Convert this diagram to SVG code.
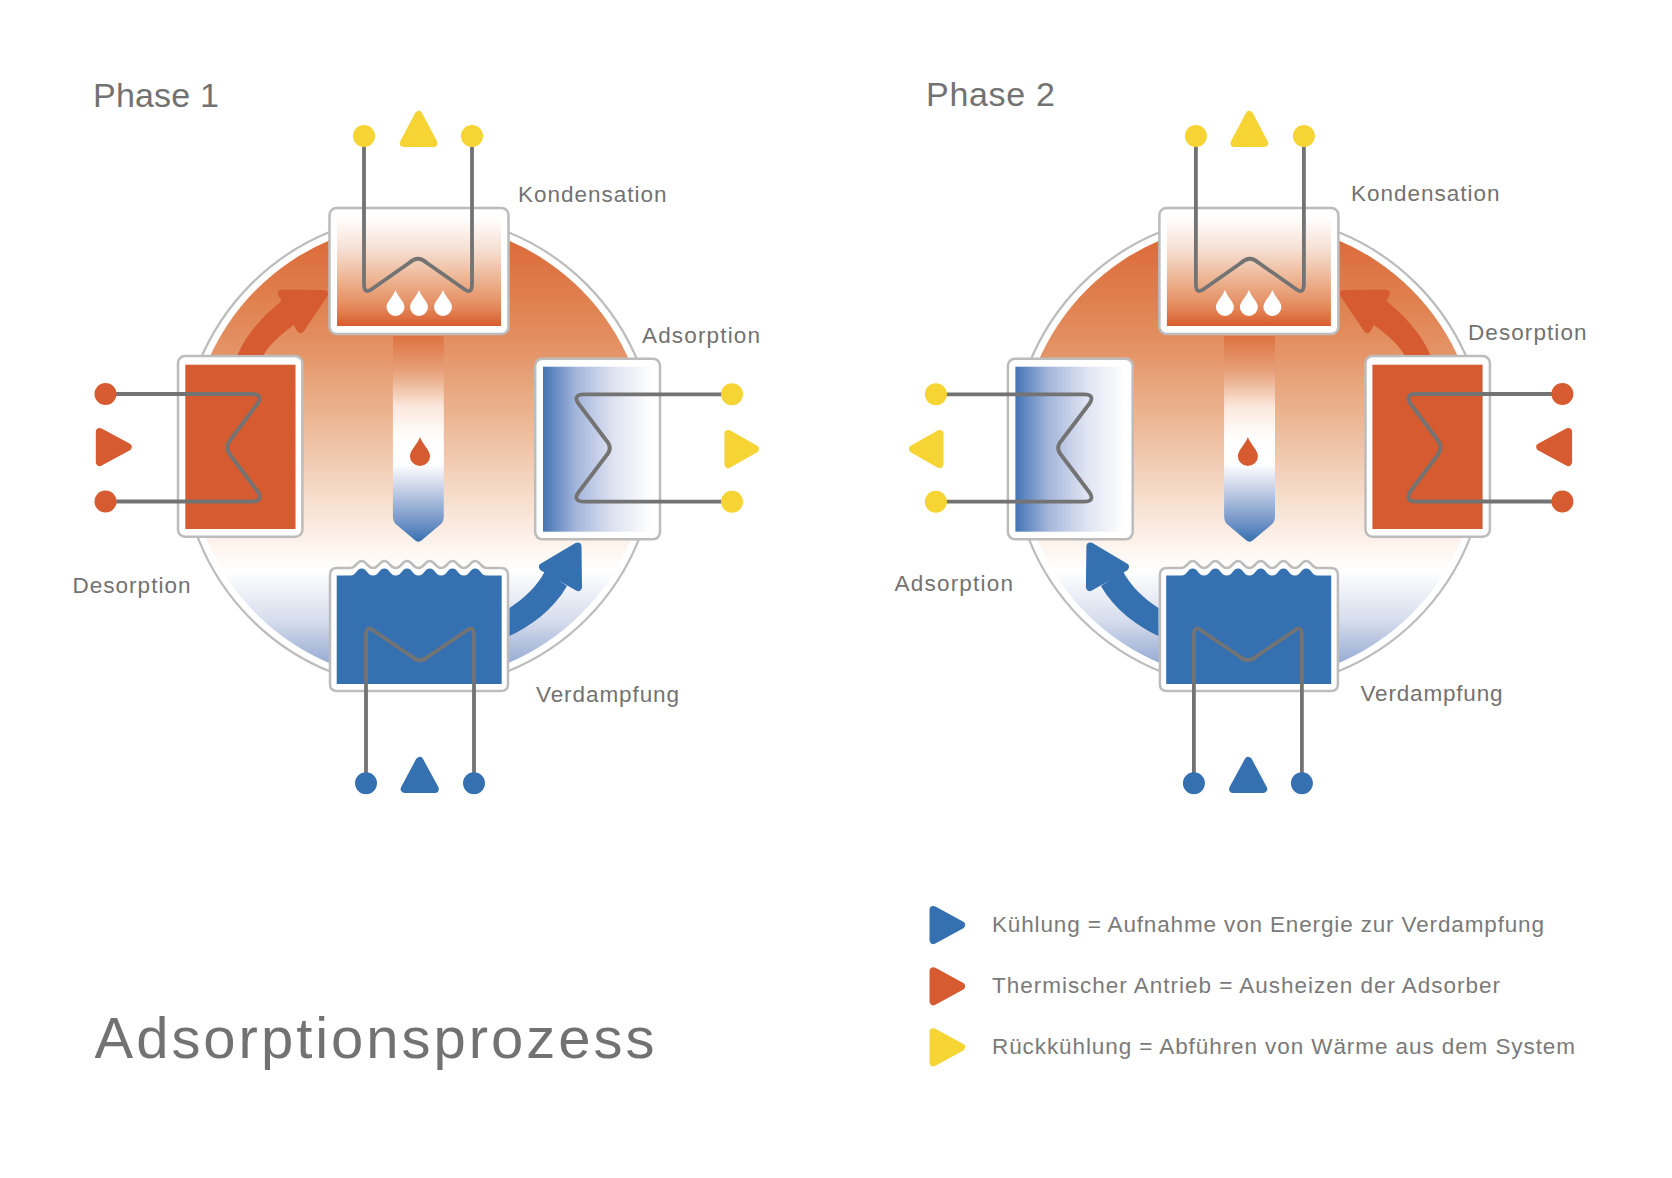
<svg xmlns="http://www.w3.org/2000/svg" width="1672" height="1178" viewBox="0 0 1672 1178">
  <style>
    text { font-family: "Liberation Sans", Arial, sans-serif; fill: #727272; }
    .title { font-size: 58px; }
    .phase { font-size: 34px; }
    .label { font-size: 22.5px; }
    .legend { font-size: 22.5px; fill: #7a7a7a; }
    .frame { fill: #fff; stroke: #bcbcbc; stroke-width: 2.5; }
    .pipe { fill: none; stroke: #737373; stroke-width: 3.8; stroke-linejoin: round; }
    .red { fill: #d65b30; }
    .blue { fill: #3570b0; }
    .yellow { fill: #f6d433; }
    .tri { stroke-width: 8; stroke-linejoin: round; }
    .tri.red { stroke: #d65b30; }
    .tri.blue { stroke: #3570b0; }
    .tri.yellow { stroke: #f6d433; }
  </style>
  <defs>
    <linearGradient id="gradCircle" gradientUnits="userSpaceOnUse" x1="0" y1="222" x2="0" y2="681">
      <stop offset="0" stop-color="#da6534"/>
      <stop offset="0.17" stop-color="#e0804f"/>
      <stop offset="0.28" stop-color="#e49366"/>
      <stop offset="0.39" stop-color="#eaae88"/>
      <stop offset="0.5" stop-color="#f0c6ab"/>
      <stop offset="0.61" stop-color="#f7dfcf"/>
      <stop offset="0.705" stop-color="#fdf4ee"/>
      <stop offset="0.76" stop-color="#ffffff"/>
      <stop offset="0.87" stop-color="#d5dcec"/>
      <stop offset="0.935" stop-color="#a9b9db"/>
      <stop offset="1" stop-color="#7a96cb"/>
    </linearGradient>
    <linearGradient id="gradCondenser" gradientUnits="userSpaceOnUse" x1="0" y1="217" x2="0" y2="326">
      <stop offset="0" stop-color="#ffffff"/>
      <stop offset="0.3" stop-color="#f6dfd2"/>
      <stop offset="0.6" stop-color="#ebb08c"/>
      <stop offset="0.83" stop-color="#e4885b"/>
      <stop offset="1" stop-color="#d85c2e"/>
    </linearGradient>
    <linearGradient id="gradChannel" gradientUnits="userSpaceOnUse" x1="0" y1="336" x2="0" y2="542">
      <stop offset="0" stop-color="#dd7240"/>
      <stop offset="0.18" stop-color="#e8a47e"/>
      <stop offset="0.345" stop-color="#fbe8dd"/>
      <stop offset="0.5" stop-color="#ffffff"/>
      <stop offset="0.62" stop-color="#ffffff"/>
      <stop offset="0.75" stop-color="#c3cee5"/>
      <stop offset="0.91" stop-color="#6e92c6"/>
      <stop offset="1" stop-color="#3570b0"/>
    </linearGradient>
    <linearGradient id="gradAdsorber" x1="0" y1="0" x2="1" y2="0">
      <stop offset="0" stop-color="#4374b4"/>
      <stop offset="0.3" stop-color="#a3b5da"/>
      <stop offset="0.65" stop-color="#dfe3f2"/>
      <stop offset="1" stop-color="#ffffff"/>
    </linearGradient>
    <path id="drop" d="M0,-13 C2,-7 9,-1 9,4 A9,9 0 0 1 -9,4 C-9,-1 -2,-7 0,-13Z"/>

    <!-- Shared building blocks; the second phase draws them mirrored about its centre -->
    <g id="vessel">
      <circle cx="418.7" cy="451.7" r="237" fill="#fff" stroke="#bcbcbc" stroke-width="2.2"/>
      <circle cx="418.7" cy="451.7" r="229.5" fill="url(#gradCircle)"/>
    </g>
    <g id="condenser">
      <rect class="frame" x="329.5" y="208" width="179" height="126" rx="7"/>
      <rect x="337" y="217" width="164" height="109" fill="url(#gradCondenser)"/>
      <use href="#drop" x="395.5" y="303" fill="#fff"/>
      <use href="#drop" x="419" y="303" fill="#fff"/>
      <use href="#drop" x="443" y="303" fill="#fff"/>
    </g>
    <g id="channel">
      <path fill="url(#gradChannel)" d="M392.9,336 H443.8 V516 Q443.8,521 441,524 L422,540 Q418.3,543.5 414.7,540 L395.7,524 Q392.9,521 392.9,516Z"/>
      <use href="#drop" transform="translate(420 451.5) scale(1.12)" class="red"/>
    </g>
    <g id="desorber">
      <rect class="frame" x="178" y="356" width="124.4" height="180.7" rx="7"/>
      <rect class="red" x="185.3" y="364.7" width="110.2" height="164.3"/>
    </g>
    <g id="evaporator">
      <path class="frame" d="M337,691 Q330,691 330,684 V575 Q330,568 337,568 H350.35 c6,0 6,-7 11.35,-7 s5.35,7 11.35,7 c6,0 6,-7 11.35,-7 s5.35,7 11.35,7 c6,0 6,-7 11.35,-7 s5.35,7 11.35,7 c6,0 6,-7 11.35,-7 s5.35,7 11.35,7 c6,0 6,-7 11.35,-7 s5.35,7 11.35,7 c6,0 6,-7 11.35,-7 s5.35,7 11.35,7 H501 Q508,568 508,575 V684 Q508,691 501,691 Z"/>
      <path class="blue" d="M336.7,684 V575.5 H350.35 c6,0 6,-7 11.35,-7 s5.35,7 11.35,7 c6,0 6,-7 11.35,-7 s5.35,7 11.35,7 c6,0 6,-7 11.35,-7 s5.35,7 11.35,7 c6,0 6,-7 11.35,-7 s5.35,7 11.35,7 c6,0 6,-7 11.35,-7 s5.35,7 11.35,7 c6,0 6,-7 11.35,-7 s5.35,7 11.35,7 H501.7 V684 Z"/>
    </g>

    <!-- Water circuits with their end points and flow triangles -->
    <g id="circuitTop">
      <path class="pipe" d="M364,136 V284 Q364,295 372,289 L409,263 Q418,254.5 427,263 L464,289 Q472,295 472,284 V136"/>
      <circle class="yellow" cx="364" cy="136" r="11"/>
      <circle class="yellow" cx="472" cy="136" r="11"/>
      <polygon class="yellow tri" points="418.6,115 403.8,143 433.4,143"/>
    </g>
    <g id="circuitBottom">
      <path class="pipe" d="M366,783 V636 Q366,624 374,631 L411,656 Q420,664.5 429,656 L466,631 Q474,624 474,636 V783"/>
      <circle class="blue" cx="366" cy="783.3" r="11"/>
      <circle class="blue" cx="474" cy="783.3" r="11"/>
      <polygon class="blue tri" points="419.6,761 404.7,789 434.8,789"/>
    </g>
    <g id="circuitDesorber">
      <path class="pipe" d="M105.5,394 H252 Q263,394 258,403 L231,439 Q224,447.5 231,456 L258,492 Q263,501.5 252,501.5 H105.5"/>
      <circle class="red" cx="105.5" cy="394" r="11"/>
      <circle class="red" cx="105.5" cy="501.5" r="11"/>
      <polygon class="red tri" points="99.8,432 127.6,447 99.8,462"/>
    </g>
    <g id="circuitAdsorber">
      <path class="pipe" d="M732,394.3 H584 Q573,394.3 578,403 L606,440 Q613.5,448 606,456 L578,493 Q573,501.7 584,501.7 H732"/>
      <circle class="yellow" cx="732" cy="394.3" r="11"/>
      <circle class="yellow" cx="732" cy="501.7" r="11"/>
      <polygon class="yellow tri" points="728.4,434 754.8,449 728.4,464"/>
    </g>
    <g id="flowHeat">
      <path class="red" d="M237.5,355 C247,333 262,317 285,298 L298,322 C284,332 271,342 263.5,355Z"/>
      <polygon class="red tri" points="282,293.5 324,294 300.5,329"/>
    </g>
    <g id="flowCold">
      <path class="blue" d="M509.5,608 C525,598 538,585 545,571 L567,586 C553,610 531,626 509.5,636 Z"/>
      <polygon class="blue tri" points="577.5,546.5 543,567 578,587"/>
    </g>
  </defs>

  <rect width="1672" height="1178" fill="#fff"/>

  <g id="phase1-vessel"><use href="#vessel"/></g>
  <g id="phase1-kondensation"><use href="#condenser"/></g>
  <g id="phase1-kanal"><use href="#channel"/></g>
  <g id="phase1-desorption"><use href="#desorber"/></g>
  <g id="phase1-adsorption">
    <rect class="frame" x="535.2" y="358.7" width="124.8" height="180.6" rx="7"/>
    <rect x="543" y="366.7" width="109" height="165" fill="url(#gradAdsorber)"/>
  </g>
  <g id="phase1-verdampfung"><use href="#evaporator"/></g>

  <g id="phase2-vessel" transform="matrix(-1 0 0 1 1667.9 0)"><use href="#vessel"/></g>
  <g id="phase2-kondensation" transform="matrix(-1 0 0 1 1667.9 0)"><use href="#condenser"/></g>
  <g id="phase2-kanal" transform="matrix(-1 0 0 1 1667.9 0)"><use href="#channel"/></g>
  <g id="phase2-desorption" transform="matrix(-1 0 0 1 1667.9 0)"><use href="#desorber"/></g>
  <!-- The adsorber keeps its blue side on the left in both phases -->
  <g id="phase2-adsorption">
    <rect class="frame" x="1007.9" y="358.7" width="124.8" height="180.6" rx="7"/>
    <rect x="1015.4" y="366.7" width="109" height="165" fill="url(#gradAdsorber)"/>
  </g>
  <g id="phase2-verdampfung" transform="matrix(-1 0 0 1 1667.9 0)"><use href="#evaporator"/></g>

  <g id="connectors">
    <use href="#flowHeat"/>
    <use href="#flowCold"/>
    <use href="#circuitTop"/>
    <use href="#circuitBottom"/>
    <use href="#circuitDesorber"/>
    <use href="#circuitAdsorber"/>
    <g transform="matrix(-1 0 0 1 1667.9 0)">
      <use href="#flowHeat"/>
      <use href="#flowCold"/>
      <use href="#circuitTop"/>
      <use href="#circuitBottom"/>
      <use href="#circuitDesorber"/>
      <use href="#circuitAdsorber"/>
    </g>
  </g>

  <g id="labels">
    <text class="phase" x="93" y="107" textLength="126">Phase 1</text>
    <text class="phase" x="926" y="106" textLength="129">Phase 2</text>
    <text class="label" x="518" y="202" textLength="148.5">Kondensation</text>
    <text class="label" x="642" y="343" textLength="118">Adsorption</text>
    <text class="label" x="72.5" y="593" textLength="118">Desorption</text>
    <text class="label" x="536" y="702" textLength="143">Verdampfung</text>
    <text class="label" x="1351" y="201" textLength="148.5">Kondensation</text>
    <text class="label" x="1468" y="340" textLength="118.5">Desorption</text>
    <text class="label" x="894.5" y="591" textLength="118.5">Adsorption</text>
    <text class="label" x="1360.5" y="701" textLength="142">Verdampfung</text>
    <text class="title" x="94.5" y="1058" textLength="560">Adsorptionsprozess</text>
  </g>

  <g id="legend">
    <polygon class="blue tri" points="933.5,910 961,925 933.5,940"/>
    <text class="legend" x="992" y="932" textLength="552">Kühlung = Aufnahme von Energie zur Verdampfung</text>
    <polygon class="red tri" points="933.5,971.3 961,986.3 933.5,1001.3"/>
    <text class="legend" x="992" y="993" textLength="508">Thermischer Antrieb = Ausheizen der Adsorber</text>
    <polygon class="yellow tri" points="933.5,1032.3 961,1047.3 933.5,1062.3"/>
    <text class="legend" x="992" y="1053.5" textLength="583">Rückkühlung = Abführen von Wärme aus dem System</text>
  </g>
</svg>
